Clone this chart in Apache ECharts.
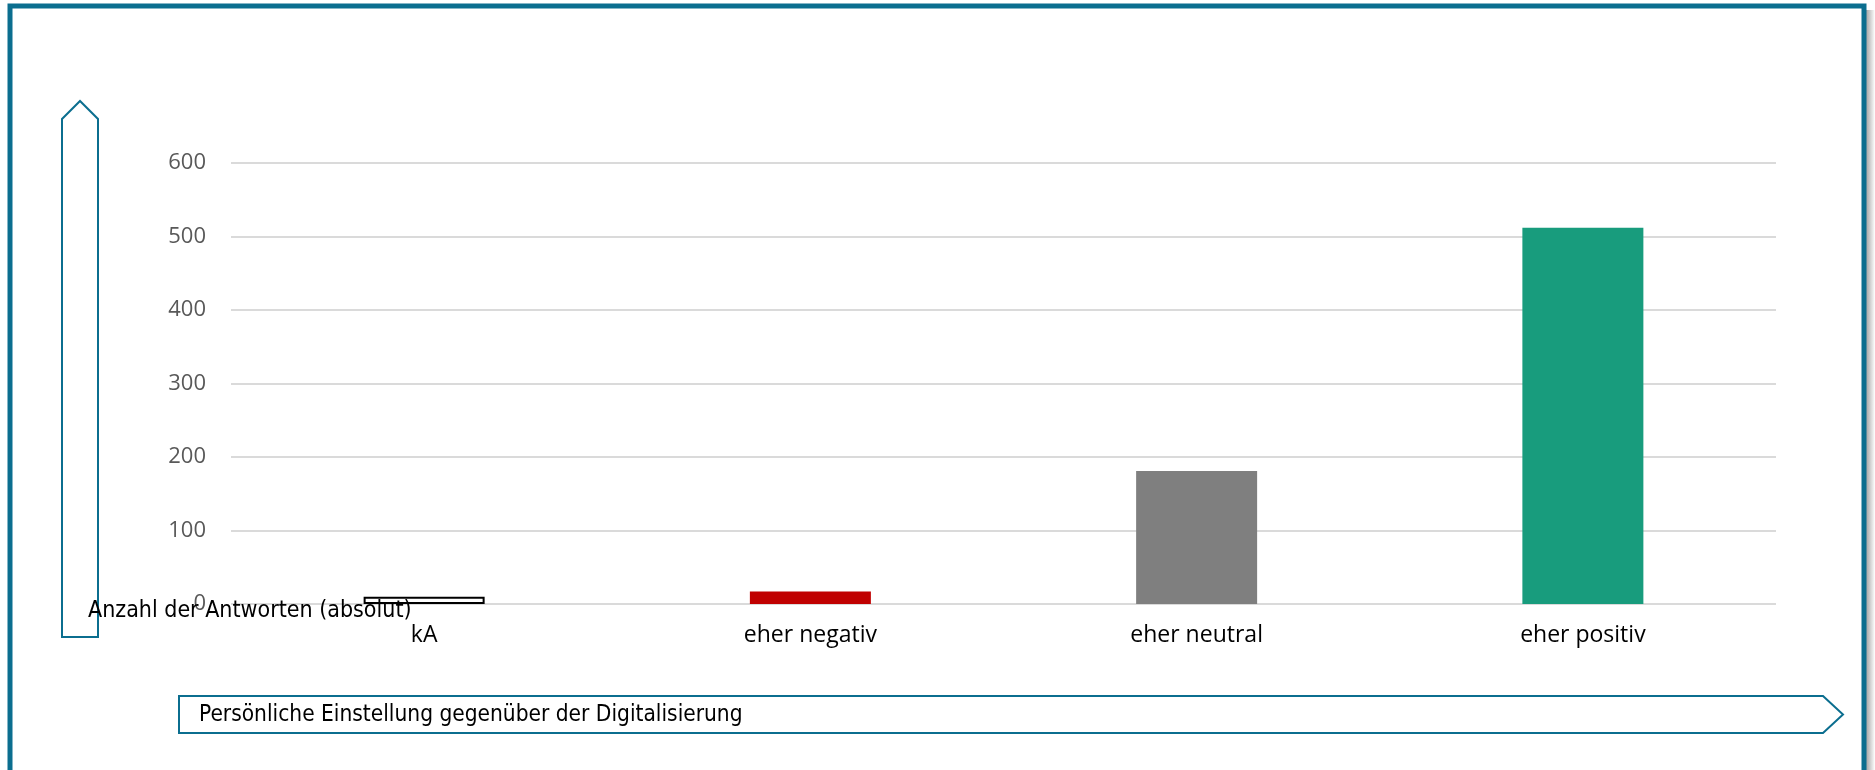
<!DOCTYPE html>
<html>
<head>
<meta charset="utf-8">
<title>Persönliche Einstellung gegenüber der Digitalisierung</title>
<script src="https://cdn.jsdelivr.net/npm/echarts@6/dist/echarts.min.js"></script>
<style>
  html, body { margin: 0; padding: 0; background: #ffffff; }
  #chart { width: 1875px; height: 770px; }
</style>
</head>
<body>
<div id="chart"></div>
<script>
// Antworten je Kategorie
const categories = ['kA', 'eher negativ', 'eher neutral', 'eher positiv'];
const counts = [10, 17, 181, 512];
const barFills = ['#ffffff', '#c00000', '#7f7f7f', '#189c7d'];
const barBorders = ['#000000', '#c00000', '#7f7f7f', '#189c7d'];

const yAxisTitle = 'Anzahl der Antworten (absolut)';
const xAxisTitle = 'Persönliche Einstellung gegenüber der Digitalisierung';

const frameBlue = '#0b6e8f';
const narrowFont = '"Liberation Sans Narrow", "DejaVu Sans Condensed", "Noto Sans", sans-serif';

const chart = echarts.init(document.getElementById('chart'), null, { renderer: 'canvas' });

chart.setOption({
  backgroundColor: '#ffffff',
  animation: false,
  grid: { left: 231, right: 99, top: 163, bottom: 166, containLabel: false },
  xAxis: {
    type: 'category',
    data: categories,
    axisLine: { show: false },
    axisTick: { show: false },
    axisLabel: {
      color: '#000000',
      fontFamily: '"Open Sans", sans-serif',
      fontSize: 23,
      margin: 20
    }
  },
  yAxis: {
    type: 'value',
    min: 0,
    max: 600,
    interval: 100,
    axisLine: { show: false },
    axisTick: { show: false },
    axisLabel: {
      color: '#595959',
      fontFamily: '"Open Sans", sans-serif',
      fontSize: 22,
      margin: 25
    },
    splitLine: { lineStyle: { color: '#dadada', width: 2 } }
  },
  series: [{
    type: 'bar',
    barWidth: 121,
    data: counts.map((v, i) => ({
      value: v,
      itemStyle: {
        color: barFills[i],
        borderColor: barBorders[i],
        borderWidth: i === 0 ? 2 : 0
      }
    }))
  }],
  graphic: [
    // outer frame
    {
      type: 'rect',
      z: 50,
      shape: { x: 10, y: 6, width: 1854, height: 820 },
      style: { fill: 'none', stroke: frameBlue, lineWidth: 5 }
    },
    // soft shadow beside the right frame edge
    {
      type: 'rect',
      z: 49,
      shape: { x: 1866, y: 10, width: 9, height: 760 },
      style: {
        fill: new echarts.graphic.LinearGradient(0, 0, 1, 0, [
          { offset: 0, color: 'rgba(90,90,90,0.55)' },
          { offset: 1, color: 'rgba(90,90,90,0)' }
        ])
      }
    },
    // vertical arrow (value axis)
    {
      type: 'polygon',
      z: 50,
      shape: { points: [[62, 119], [80, 101], [98, 119], [98, 637], [62, 637]] },
      style: { fill: 'none', stroke: frameBlue, lineWidth: 2 }
    },
    {
      type: 'text',
      z: 60,
      left: 88,
      top: 600,
      style: {
        text: yAxisTitle,
        fill: '#000000',
        font: '23px ' + narrowFont
      }
    },
    // horizontal arrow (category axis)
    {
      type: 'polygon',
      z: 50,
      shape: { points: [[179, 696], [1823, 696], [1843, 714.5], [1823, 733], [179, 733]] },
      style: { fill: 'none', stroke: frameBlue, lineWidth: 2 }
    },
    {
      type: 'text',
      z: 60,
      left: 199,
      top: 704,
      style: {
        text: xAxisTitle,
        fill: '#000000',
        font: '22.5px ' + narrowFont
      }
    }
  ]
});
</script>
</body>
</html>
